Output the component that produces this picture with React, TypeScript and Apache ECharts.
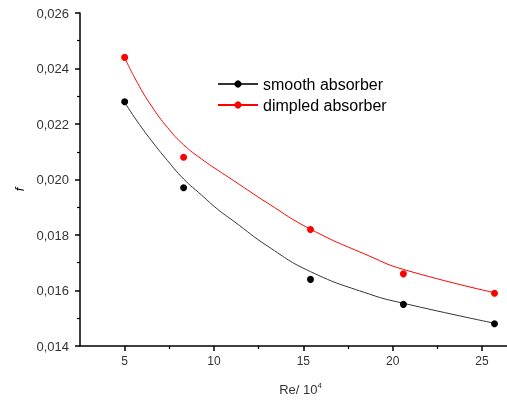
import React, { useEffect, useRef } from "react";
import * as echarts from "echarts";

const reValues = [5, 8.3, 15.4, 20.6, 25.7];
const smoothF = [0.0228, 0.0197, 0.0164, 0.0155, 0.0148];
const dimpledF = [0.0244, 0.0208, 0.0182, 0.0166, 0.0159];

// fitted curves
const fitRe = [5, 5.7, 6.5, 7.4, 8.3, 9.3, 10.2, 11.1, 13, 15.4, 18.7, 20.6, 25.7];
const smoothFit = [0.02278, 0.0221, 0.0214, 0.02068, 0.02002, 0.01944, 0.01893, 0.0185, 0.0176, 0.01668, 0.01587, 0.01554, 0.01482];
const dimpledFit = [0.02439, 0.0235, 0.02265, 0.02187, 0.02125, 0.02074, 0.02034, 0.01996, 0.01915, 0.01821, 0.01724, 0.01676, 0.01592];

const seriesNames = ["smooth absorber", "dimpled absorber"];
const xMajorTicks = [5, 10, 15, 20, 25];
const xMinorTicks = [7.5, 12.5, 17.5, 22.5];
const xRange = { min: 2.5, max: 26.4 };
const yTicks = { min: 0.014, max: 0.026, interval: 0.002 };

export default function App() {
  const ref = useRef<HTMLDivElement>(null);
  useEffect(() => {
    if (!ref.current) return;
    const chart = echarts.init(ref.current, undefined, { renderer: "svg" });
    const pts = (xs: number[], ys: number[]) => xs.map((x, i) => [x, ys[i]]);
    const labelColor = "#333";
    const font = "Liberation Sans, Arial";
    chart.setOption({
      animation: false,
      grid: { left: 80, right: 0, top: 13, bottom: 55 },
      legend: {
        orient: "vertical",
        left: 212,
        top: 71,
        itemWidth: 40,
        itemHeight: 9,
        itemGap: 5,
        data: seriesNames,
        textStyle: { fontFamily: font, fontSize: 16, color: "#000" },
      },
      xAxis: [
        {
          type: "value",
          min: xRange.min,
          max: xRange.max,
          splitLine: { show: false },
          axisLine: { onZero: false, lineStyle: { color: "#000", width: 1.5 } },
          axisTick: { show: true, length: 5, customValues: xMajorTicks, lineStyle: { color: "#000", width: 1.5 } },
          axisLabel: {
            margin: 9,
            fontFamily: font,
            fontSize: 12,
            color: labelColor,
            customValues: xMajorTicks,
          },
          name: "Re/ 10{sup|4}",
          nameLocation: "middle",
          nameGap: 35,
          nameTextStyle: {
            fontFamily: font,
            fontSize: 13,
            color: labelColor,
            padding: [0, 0, 0, 14],
            rich: { sup: { fontSize: 8, verticalAlign: "top", padding: [0, 0, 8, 0], fontFamily: font, color: labelColor } },
          },
        },
        {
          type: "value",
          position: "bottom",
          min: xRange.min,
          max: xRange.max,
          splitLine: { show: false },
          axisLine: { show: false, onZero: false },
          axisTick: { show: true, length: 3, customValues: xMinorTicks, lineStyle: { color: "#000", width: 1.2 } },
          axisLabel: { show: false },
        },
      ],
      yAxis: {
        type: "value",
        min: yTicks.min,
        max: yTicks.max,
        interval: yTicks.interval,
        splitLine: { show: false },
        axisLine: { show: true, lineStyle: { color: "#000", width: 1.5 } },
        axisTick: { show: true, length: 5, lineStyle: { color: "#000", width: 1.5 } },
        minorTick: { show: true, splitNumber: 2, length: 3, lineStyle: { color: "#000", width: 1.2 } },
        axisLabel: {
          margin: 11,
          fontFamily: font,
          fontSize: 13,
          color: labelColor,
          formatter: (v: number) => v.toFixed(3).replace(".", ","),
        },
        name: "f",
        nameLocation: "middle",
        nameGap: 54,
        nameTextStyle: { fontFamily: font, fontSize: 13, fontStyle: "italic", color: "#000", padding: [0, 20, 0, 0] },
      },
      series: [
        {
          name: seriesNames[0],
          type: "line",
          smooth: true,
          showSymbol: false,
          symbol: "circle",
          symbolSize: 7,
          itemStyle: { color: "#000" },
          lineStyle: { color: "#333", width: 1 },
          data: pts(fitRe, smoothFit),
          z: 2,
        },
        {
          name: seriesNames[1],
          type: "line",
          smooth: true,
          showSymbol: false,
          symbol: "circle",
          symbolSize: 7,
          itemStyle: { color: "#ff0000" },
          lineStyle: { color: "#ff0000", width: 1 },
          data: pts(fitRe, dimpledFit),
          z: 2,
        },
        {
          name: seriesNames[0],
          type: "scatter",
          symbolSize: 7,
          itemStyle: { color: "#000", opacity: 1 },
          data: pts(reValues, smoothF),
          z: 3,
        },
        {
          name: seriesNames[1],
          type: "scatter",
          symbolSize: 7,
          itemStyle: { color: "#ff0000", opacity: 1 },
          data: pts(reValues, dimpledF),
          z: 3,
        },
      ],
    });
    return () => chart.dispose();
  }, []);
  return <div ref={ref} style={{ position: "fixed", left: 0, top: 0, width: 507, height: 401 }} />;
}
